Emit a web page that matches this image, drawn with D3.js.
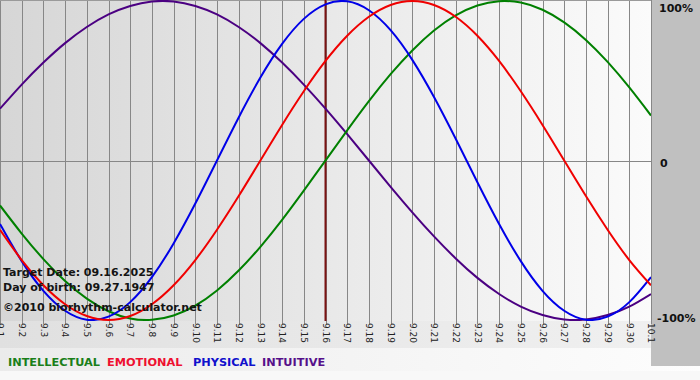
<!DOCTYPE html>
<html>
<head>
<meta charset="utf-8">
<script src="https://cdn.jsdelivr.net/npm/d3@7"></script>
<style>
html,body{margin:0;padding:0;background:#fff;}
svg{display:block;}
</style>
</head>
<body>
<div id="chart"></div>
<script>
// ---- data ----
const days = ["9.1","9.2","9.3","9.4","9.5","9.6","9.7","9.8","9.9","9.10",
  "9.11","9.12","9.13","9.14","9.15","9.16","9.17","9.18","9.19","9.20",
  "9.21","9.22","9.23","9.24","9.25","9.26","9.27","9.28","9.29","9.30","10.1"];
const intellectual = [-0.282,-0.458,-0.618,-0.756,-0.866,-0.945,-0.990,-0.999,-0.972,-0.910,
  -0.815,-0.690,-0.541,-0.372,-0.189,0,0.189,0.372,0.541,0.690,
  0.815,0.910,0.972,0.999,0.990,0.945,0.866,0.756,0.618,0.458,0.282];
const emotional = [-0.434,-0.624,-0.782,-0.901,-0.975,-1,-0.975,-0.901,-0.782,-0.624,
  -0.434,-0.223,0,0.223,0.434,0.624,0.782,0.901,0.975,1,
  0.975,0.901,0.782,0.624,0.434,0.223,0,-0.223,-0.434,-0.624,-0.782];
const physical = [-0.398,-0.631,-0.817,-0.942,-0.998,-0.979,-0.888,-0.731,-0.520,-0.270,
  0,0.270,0.520,0.731,0.888,0.979,0.998,0.942,0.817,0.631,
  0.398,0.136,-0.136,-0.398,-0.631,-0.817,-0.942,-0.998,-0.979,-0.888,-0.731];
const intuitive = [0.325,0.476,0.614,0.736,0.837,0.916,0.969,0.997,0.997,0.969,
  0.916,0.837,0.736,0.614,0.476,0.325,0.165,0,-0.165,-0.325,
  -0.476,-0.614,-0.736,-0.837,-0.916,-0.969,-0.997,-0.997,-0.969,-0.916,-0.837];
const targetDay = "9.16";
const yTicks = [1, 0, -1];
const yTickLabels = ["100%", "0", "-100%"];
const seriesNames = ["INTELLECTUAL","EMOTIONAL","PHYSICAL","INTUITIVE"];
const infoLines = ["Target Date: 09.16.2025","Day of birth: 09.27.1947","\u00A92010 biorhythm-calculator.net"];

// ---- styles ----
const W = 700, H = 380;
const plotW = 651, plotH = 321;
const colors = {INTELLECTUAL:"#008000", EMOTIONAL:"#f00000", PHYSICAL:"#0000e8", INTUITIVE:"#4b0082"};
const legendColors = {INTELLECTUAL:"#1a7f1a", EMOTIONAL:"#ee1030", PHYSICAL:"#1010cc", INTUITIVE:"#56108a"};
const legendX = [8, 107, 193, 262];

const svg = d3.select("#chart").append("svg").attr("width", W).attr("height", H);
const defs = svg.append("defs");
function grad(id, c1, c2){
  const g = defs.append("linearGradient").attr("id", id).attr("x1","0").attr("x2","1").attr("y1","0").attr("y2","0");
  g.append("stop").attr("offset","0").attr("stop-color", c1);
  g.append("stop").attr("offset","1").attr("stop-color", c2);
}
grad("gPlot", "#d6d6d6", "#fbfbfb");
grad("gAxis", "#e0e0e0", "#f0f0f0");
grad("gLeg", "#ebebeb", "#fdfdfd");
defs.append("clipPath").attr("id","clipPlot").append("rect").attr("x",0).attr("y",0).attr("width",plotW).attr("height",plotH);

svg.append("rect").attr("width", W).attr("height", H).attr("fill", "#f8f8f8");
svg.append("rect").attr("x",0).attr("y",plotH).attr("width",plotW).attr("height",27).attr("fill","url(#gAxis)");
svg.append("rect").attr("x",0).attr("y",348).attr("width",W).attr("height",23).attr("fill","url(#gLeg)");
svg.append("rect").attr("x",plotW).attr("y",0).attr("width",W-plotW).attr("height",366).attr("fill","#c0c0c0");
svg.append("rect").attr("x",0).attr("y",0).attr("width",plotW).attr("height",plotH).attr("fill","url(#gPlot)");

const x = d3.scalePoint().domain(days).range([0, plotW]);
const y = d3.scaleLinear().domain([-1, 1]).range([320, 1]);

// grid
const grid = svg.append("g");
grid.selectAll("line.v").data(days).join("line")
  .attr("x1", d => Math.round(x(d)) + 0.5).attr("x2", d => Math.round(x(d)) + 0.5)
  .attr("y1", 0).attr("y2", plotH + 3)
  .attr("stroke", "#878787").attr("stroke-width", 1);
grid.append("line").attr("x1",0).attr("x2",plotW).attr("y1",Math.round(y(0))+0.5).attr("y2",Math.round(y(0))+0.5)
  .attr("stroke","#878787");
grid.append("line").attr("x1",0).attr("x2",plotW).attr("y1",0.5).attr("y2",0.5).attr("stroke","#9a9a9a");

// target line
svg.append("line").attr("x1", x(targetDay)).attr("x2", x(targetDay))
  .attr("y1", 0).attr("y2", plotH).attr("stroke", "#7a1212").attr("stroke-width", 2);

// x axis labels (rotated)
const xAxis = d3.axisBottom(x).tickSize(0).tickPadding(0);
const gx = svg.append("g").attr("transform", `translate(0,${plotH})`).call(xAxis);
gx.select(".domain").remove();
gx.selectAll(".tick text")
  .attr("transform", "rotate(90)")
  .attr("x", 2).attr("y", 0).attr("dy", "0.36em")
  .attr("text-anchor", "start")
  .style("font-family", "'DejaVu Sans', Verdana, sans-serif")
  .style("font-size", "9px")
  .attr("fill", "#222");

// curves
const series = {INTELLECTUAL: intellectual, EMOTIONAL: emotional, PHYSICAL: physical, INTUITIVE: intuitive};
const line = d3.line().x((d, i) => x(days[i])).y(d => y(d)).curve(d3.curveNatural);
const gCurves = svg.append("g").attr("clip-path", "url(#clipPlot)");
["INTUITIVE","INTELLECTUAL","PHYSICAL","EMOTIONAL"].forEach(name => {
  gCurves.append("path").datum(series[name]).attr("d", line)
    .attr("fill", "none").attr("stroke", colors[name]).attr("stroke-width", 2);
});

// y labels right
const yAxis = d3.axisRight(y).tickValues(yTicks).tickSize(0).tickPadding(0)
  .tickFormat((d, i) => yTickLabels[i]);
const gy = svg.append("g").attr("transform", `translate(${plotW + 5},0)`).call(yAxis);
gy.select(".domain").remove();
gy.selectAll(".tick text")
  .style("font-family", "'DejaVu Sans', Verdana, sans-serif")
  .style("font-size", "11px").style("font-weight", "bold")
  .attr("fill", "#111")
  .attr("dy", (d) => d === 1 ? "0.95em" : (d === -1 ? "0.1em" : "0.55em"))
  .attr("x", d => d === 0 ? 4 : (d === 1 ? 3 : 1));

// info text
svg.append("g").selectAll("text").data(infoLines).join("text")
  .attr("x", 3).attr("y", (d, i) => [276, 291, 311][i])
  .text(d => d)
  .style("font-family", "'DejaVu Sans', Verdana, sans-serif")
  .style("font-size", "11px").style("font-weight", "bold")
  .attr("fill", "#141414");

// legend
svg.append("g").selectAll("text").data(seriesNames).join("text")
  .attr("x", (d, i) => legendX[i]).attr("y", 366)
  .text(d => d)
  .style("font-family", "'DejaVu Sans', Verdana, sans-serif")
  .style("font-size", "11.3px").style("font-weight", "bold")
  .attr("fill", d => legendColors[d]);
</script>
</body>
</html>
